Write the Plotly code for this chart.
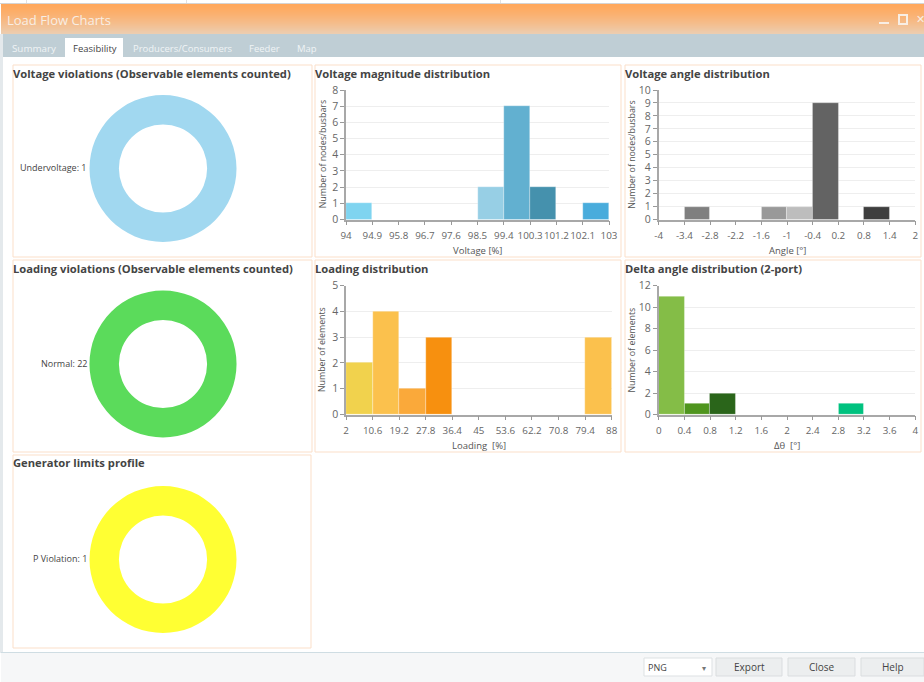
import plotly.graph_objects as go

W, H = 924, 682
FONT = "Open Sans"

# donuts
voltage_viol_labels = ["Undervoltage"]
voltage_viol_values = [1]
loading_viol_labels = ["Normal"]
loading_viol_values = [22]
generator_labels = ["P Violation"]
generator_values = [1]

# histograms: bin edges and counts per bin
voltage_edges = [94, 94.9, 95.8, 96.7, 97.6, 98.5, 99.4, 100.3, 101.2, 102.1, 103]
voltage_counts = [1, 0, 0, 0, 0, 2, 7, 2, 0, 1]
voltage_colors = ["#7fd4f0", "#fff", "#fff", "#fff", "#fff", "#97cfe5", "#62b0d0", "#4591ad", "#fff", "#49acdc"]

angle_edges = [-4, -3.4, -2.8, -2.2, -1.6, -1, -0.4, 0.2, 0.8, 1.4, 2]
angle_counts = [0, 1, 0, 0, 1, 1, 9, 0, 1, 0]
angle_colors = ["#fff", "#7f7f7f", "#fff", "#fff", "#999999", "#bdbdbd", "#636363", "#fff", "#3e3e3e", "#fff"]

loading_edges = [2, 10.6, 19.2, 27.8, 36.4, 45, 53.6, 62.2, 70.8, 79.4, 88]
loading_counts = [2, 4, 1, 3, 0, 0, 0, 0, 0, 3]
loading_colors = ["#f1d24d", "#fbc14d", "#faa93a", "#f7900f", "#fff", "#fff", "#fff", "#fff", "#fff", "#fbc14d"]

delta_edges = [0, 0.4, 0.8, 1.2, 1.6, 2, 2.4, 2.8, 3.2, 3.6, 4]
delta_counts = [11, 1, 2, 0, 0, 0, 0, 1, 0, 0]
delta_colors = ["#84bd47", "#4f951e", "#2a651a", "#fff", "#fff", "#fff", "#fff", "#00c27f", "#fff", "#fff"]


def px(x):
    return x / W


def py(y):
    return 1 - y / H


def rect(x0, y0, x1, y1, fill, line=None, width=1):
    return dict(type="rect", xref="paper", yref="paper", layer="below",
                x0=px(x0), x1=px(x1), y0=py(y0), y1=py(y1), fillcolor=fill,
                line=dict(color=line or fill, width=width if line else 0))


def label(x, y, text, size=10, color="#555555", anchor="center", bold=False):
    if bold:
        text = "<b>" + text + "</b>"
    return dict(xref="paper", yref="paper", x=px(x), y=py(y), text=text, showarrow=False,
                xanchor=anchor, yanchor="middle", font=dict(family=FONT, size=size, color=color))


fig = go.Figure()
shapes = []
notes = []

# window chrome
shapes.append(rect(0, 0, W, H, "#ffffff"))
for x in [26, 186, 500]:
    shapes.append(rect(x, 0, x + 1, 3, "#e2e2e2"))
shapes.append(rect(0, 3, W, 4, "#d4d4d4"))
top = (255, 168, 92)
bottom = (236, 205, 176)
for i in range(30):
    c = [round(top[k] + (bottom[k] - top[k]) * (i / 29) ** 1.3) for k in range(3)]
    shapes.append(rect(1, 4 + i, W, 5 + i, "rgb(%d,%d,%d)" % tuple(c)))
shapes.append(rect(1, 34, W, 57, "#bfced5"))
shapes.append(rect(65, 38, 123, 57, "#ffffff"))
shapes.append(rect(0, 34, 3, 653, "#e4e9ec"))
shapes.append(rect(1, 653, W, H, "#f6f7f8"))
shapes.append(rect(1, 652, W, 653, "#cfdde3"))

notes.append(label(5, 20, "Load Flow Charts", 13, "#f8eee4", "left"))
notes.append(label(34, 48, "Summary", 9.8, "#f0f4f5"))
notes.append(label(94.5, 48, "Feasibility", 9.5, "#444444"))
notes.append(label(183, 48, "Producers/Consumers", 9.5, "#f0f4f5"))
notes.append(label(264, 48, "Feeder", 9.5, "#f0f4f5"))
notes.append(label(307, 48, "Map", 9.5, "#f0f4f5"))

# window buttons
shapes.append(rect(879, 22, 889, 24, "#f8eee4"))
shapes.append(dict(type="rect", xref="paper", yref="paper", x0=px(899), x1=px(907), y0=py(15), y1=py(24),
                   fillcolor="rgba(0,0,0,0)", line=dict(color="#f8eee4", width=2), layer="below"))
notes.append(label(920, 19, "✕", 11, "#f8eee4"))

# bottom bar
shapes.append(rect(644, 658, 712, 676, "#ffffff", "#dde1e3"))
notes.append(label(646, 667, "PNG", 9, "#444444", "left"))
notes.append(label(704, 667, "▾", 8, "#777777"))
for x0, x1, name in [(716, 782, "Export"), (788, 855, "Close"), (861, 924, "Help")]:
    shapes.append(rect(x0, 658, x1, 676, "#eceeef", "#dadddf"))
    notes.append(label((x0 + x1) / 2, 667, name, 10, "#444444"))

# panels
panels = [
    (13, 65, 312, 257, "Voltage violations (Observable elements counted)"),
    (315, 65, 621, 257, "Voltage magnitude distribution"),
    (625, 65, 921, 257, "Voltage angle distribution"),
    (13, 260, 312, 452, "Loading violations (Observable elements counted)"),
    (315, 260, 621, 452, "Loading distribution"),
    (625, 260, 921, 452, "Delta angle distribution (2-port)"),
    (13, 455, 311, 648, "Generator limits profile"),
]
for x0, y0, x1, y1, name in panels:
    shapes.append(rect(x0, y0, x1, y1, "#ffffff", "#fbdfc9"))
    notes.append(label(x0 - 2, y0 + 8, name, 11.2, "#444444", "left", True))

# donuts
donuts = [
    (voltage_viol_labels, voltage_viol_values, "#a1d8f0", 168.5),
    (loading_viol_labels, loading_viol_values, "#5bdb5b", 364),
    (generator_labels, generator_values, "#ffff33", 559.5),
]
for labels, values, color, cy in donuts:
    fig.add_trace(go.Pie(labels=labels, values=values, hole=0.6, sort=False, showlegend=False,
                         textinfo="none", marker=dict(colors=[color], line=dict(width=0)),
                         domain=dict(x=[px(163 - 73.5), px(163 + 73.5)], y=[py(cy + 73.5), py(cy - 73.5)])))
    notes.append(label(89, cy - 1, "%s: %d" % (labels[0], values[0]), 9, "#444444", "right"))

# histograms
charts = [
    (voltage_edges, voltage_counts, voltage_colors, 346, 609, 90, 219.5, 8, 1, "Voltage [%]", "Number of nodes/busbars", 322.5),
    (angle_edges, angle_counts, angle_colors, 658.7, 915.3, 90, 219.5, 10, 1, "Angle [°]", "Number of nodes/busbars", 632),
    (loading_edges, loading_counts, loading_colors, 346, 611.7, 285.5, 414.5, 5, 1, "Loading  [%]", "Number of elements", 322),
    (delta_edges, delta_counts, delta_colors, 658.7, 915.3, 285.5, 414.5, 12, 2, "Δθ  [°]", "Number of elements", 631.5),
]
axes = {}
for i, (edges, counts, colors, x0, x1, y0, y1, ymax, dy, xtitle, ytitle, ytitle_x) in enumerate(charts):
    n = "" if i == 0 else str(i + 1)
    widths = [edges[k + 1] - edges[k] for k in range(len(counts))]
    fig.add_trace(go.Bar(x=edges[:-1], y=counts, width=widths, offset=0, showlegend=False,
                         marker=dict(color=colors, line=dict(color="rgba(255,255,255,0.6)", width=0.5)),
                         xaxis="x" + n, yaxis="y" + n))
    axes["xaxis" + n] = dict(domain=[px(x0), px(x1)], anchor="y" + n, range=[edges[0], edges[-1]],
                             tickmode="array", tickvals=edges, ticktext=[str(v) for v in edges],
                             ticks="outside", ticklen=4, tickcolor="#999999", showline=True,
                             linecolor="#a8a8a8", linewidth=1.5, showgrid=False, zeroline=False,
                             ticklabelstandoff=2, tickangle=0,
                             tickfont=dict(family=FONT, size=9.8, color="#666666"))
    axes["yaxis" + n] = dict(domain=[py(y1), py(y0)], anchor="x" + n, range=[0, ymax], dtick=dy,
                             ticks="outside", ticklen=4, tickcolor="#999999", showline=True,
                             linecolor="#a8a8a8", linewidth=1.5, gridcolor="#eeeeee", zeroline=False,
                             tickfont=dict(family=FONT, size=10.5, color="#666666"))
    notes.append(label((x0 + x1) / 2, y1 + 30.5, xtitle, 9.5, "#555555"))
    note = label(ytitle_x, (y0 + y1) / 2, ytitle, 8.8, "#555555")
    note["textangle"] = -90
    notes.append(note)

fig.update_layout(width=W, height=H, margin=dict(l=0, r=0, t=0, b=0, pad=0, autoexpand=False),
                  paper_bgcolor="#ffffff", plot_bgcolor="rgba(0,0,0,0)", shapes=shapes,
                  annotations=notes, bargap=0, **axes)

fig.write_html("out.html", config={"displayModeBar": False},
               post_script="document.body.style.margin='0';document.body.style.overflow='hidden';")
